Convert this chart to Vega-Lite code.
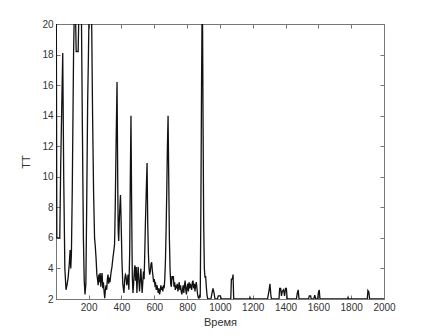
{
  "$schema": "https://vega.github.io/schema/vega-lite/v6.json",
  "autosize": "none",
  "width": 328,
  "height": 275,
  "padding": {"left": 56, "top": 24, "right": 42, "bottom": 37},
  "background": "white",
  "config": {
    "view": {"stroke": "#777", "strokeWidth": 1},
    "axis": {"grid": false, "domainColor": "#777", "tickColor": "#777", "labelColor": "#333", "titleColor": "#333", "labelFont": "Liberation Sans", "titleFont": "Liberation Sans", "labelFontSize": 10, "titleFontSize": 11, "titleFontWeight": "normal", "tickSize": -4, "labelPadding": 7, "labelOverlap": false, "labelFlush": false, "labelBound": false}
  },
  "data": {"values": [
    {"t":1,"v":20},{"t":3,"v":20},{"t":6,"v":6},{"t":24,"v":6},{"t":30,"v":11},{"t":42,"v":18.1},{"t":48,"v":10},{"t":55,"v":4},{"t":62,"v":2.6},{"t":68,"v":2.9},{"t":75,"v":3.4},{"t":82,"v":4.3},{"t":87,"v":5.2},{"t":91,"v":4},{"t":95,"v":5},{"t":100,"v":9},{"t":108,"v":18},{"t":112,"v":20.5},{"t":120,"v":20.5},{"t":124,"v":18.2},{"t":136,"v":18.2},{"t":140,"v":20.5},{"t":156,"v":20.5},{"t":162,"v":13},{"t":168,"v":6},{"t":173,"v":3.2},{"t":178,"v":2.3},{"t":183,"v":3},{"t":188,"v":8},{"t":194,"v":15},{"t":198,"v":17.5},{"t":202,"v":20.5},{"t":218,"v":20.5},{"t":224,"v":14},{"t":230,"v":9},{"t":236,"v":6},{"t":240,"v":5.5},{"t":245,"v":4.7},{"t":250,"v":3.6},{"t":254,"v":3.3},{"t":258,"v":2.9},{"t":262,"v":3.6},{"t":266,"v":3.1},{"t":270,"v":3.7},{"t":274,"v":2.8},{"t":278,"v":3.4},{"t":282,"v":3.7},{"t":286,"v":2.7},{"t":290,"v":3.1},{"t":294,"v":2.5},{"t":298,"v":2.05},{"t":302,"v":2.6},{"t":306,"v":2.9},{"t":310,"v":2.6},{"t":314,"v":3.3},{"t":318,"v":3.6},{"t":322,"v":3},{"t":326,"v":3.4},{"t":330,"v":3.1},{"t":336,"v":3.7},{"t":342,"v":4.1},{"t":348,"v":4.7},{"t":354,"v":5.2},{"t":358,"v":5.6},{"t":362,"v":8},{"t":367,"v":12},{"t":373,"v":16.2},{"t":377,"v":10},{"t":380,"v":6.5},{"t":383,"v":5.8},{"t":388,"v":7.5},{"t":394,"v":8.8},{"t":398,"v":7},{"t":403,"v":4.5},{"t":408,"v":3},{"t":415,"v":2.4},{"t":420,"v":3.3},{"t":424,"v":3.6},{"t":428,"v":3.5},{"t":432,"v":2.9},{"t":436,"v":3.1},{"t":440,"v":3.6},{"t":445,"v":2.6},{"t":450,"v":5},{"t":454,"v":10},{"t":458,"v":14},{"t":462,"v":8},{"t":466,"v":3.5},{"t":470,"v":2.4},{"t":474,"v":3},{"t":478,"v":3.8},{"t":482,"v":4.2},{"t":486,"v":3.2},{"t":490,"v":4.1},{"t":494,"v":2.4},{"t":498,"v":3.5},{"t":502,"v":4.1},{"t":506,"v":3.2},{"t":510,"v":2.5},{"t":514,"v":3.2},{"t":518,"v":4},{"t":522,"v":3.2},{"t":526,"v":2.4},{"t":530,"v":3.1},{"t":534,"v":3.8},{"t":538,"v":3.3},{"t":542,"v":5},{"t":546,"v":7},{"t":551,"v":9},{"t":556,"v":10.9},{"t":560,"v":7},{"t":564,"v":5},{"t":568,"v":4},{"t":572,"v":3.6},{"t":576,"v":3.8},{"t":580,"v":4.3},{"t":584,"v":4.4},{"t":588,"v":3.9},{"t":592,"v":3.5},{"t":596,"v":3.1},{"t":600,"v":3.3},{"t":604,"v":2.9},{"t":608,"v":3},{"t":612,"v":2.6},{"t":616,"v":2.9},{"t":620,"v":2.7},{"t":624,"v":2.4},{"t":628,"v":2.7},{"t":632,"v":2.3},{"t":636,"v":2.5},{"t":640,"v":2.9},{"t":644,"v":2.6},{"t":648,"v":2.8},{"t":652,"v":2.5},{"t":656,"v":2.9},{"t":660,"v":2.7},{"t":664,"v":3.3},{"t":668,"v":4.5},{"t":672,"v":6.5},{"t":676,"v":9},{"t":680,"v":12},{"t":684,"v":14},{"t":688,"v":10},{"t":692,"v":6},{"t":696,"v":4},{"t":700,"v":3},{"t":704,"v":2.8},{"t":708,"v":3.5},{"t":712,"v":3.3},{"t":716,"v":3.5},{"t":720,"v":2.8},{"t":724,"v":3.1},{"t":728,"v":2.6},{"t":732,"v":2.9},{"t":736,"v":2.7},{"t":740,"v":3},{"t":744,"v":2.5},{"t":748,"v":2.8},{"t":752,"v":3.1},{"t":756,"v":2.6},{"t":760,"v":2.9},{"t":764,"v":2.5},{"t":768,"v":2.3},{"t":772,"v":2.6},{"t":776,"v":2.9},{"t":780,"v":2.4},{"t":784,"v":2.9},{"t":788,"v":3.2},{"t":792,"v":2.6},{"t":796,"v":2.3},{"t":800,"v":2.8},{"t":804,"v":3},{"t":808,"v":2.5},{"t":812,"v":3.1},{"t":816,"v":2.7},{"t":820,"v":3},{"t":824,"v":2.8},{"t":828,"v":2.6},{"t":832,"v":3.1},{"t":836,"v":3.2},{"t":840,"v":2.7},{"t":844,"v":3},{"t":848,"v":2.5},{"t":852,"v":2.9},{"t":856,"v":3.1},{"t":860,"v":2.7},{"t":864,"v":2.3},{"t":868,"v":2.1},{"t":872,"v":2.05},{"t":876,"v":2.2},{"t":880,"v":2.1},{"t":884,"v":8},{"t":888,"v":16},{"t":891,"v":20.5},{"t":894,"v":20.5},{"t":897,"v":14},{"t":901,"v":7},{"t":905,"v":4},{"t":909,"v":3.4},{"t":913,"v":3.5},{"t":917,"v":2.8},{"t":922,"v":2.2},{"t":926,"v":2},{"t":945,"v":2},{"t":952,"v":2.4},{"t":958,"v":2.7},{"t":964,"v":2.4},{"t":970,"v":2},{"t":985,"v":2},{"t":990,"v":2.2},{"t":1003,"v":2.2},{"t":1008,"v":2},{"t":1066,"v":2},{"t":1070,"v":3.3},{"t":1076,"v":3.3},{"t":1080,"v":3.6},{"t":1084,"v":2},{"t":1180,"v":2},{"t":1183,"v":2.1},{"t":1186,"v":2},{"t":1290,"v":2},{"t":1300,"v":2.6},{"t":1305,"v":3},{"t":1310,"v":2.3},{"t":1314,"v":2},{"t":1360,"v":2},{"t":1364,"v":2.7},{"t":1370,"v":2.7},{"t":1375,"v":2.2},{"t":1380,"v":2.5},{"t":1388,"v":2.6},{"t":1394,"v":2.2},{"t":1400,"v":2.7},{"t":1405,"v":2.7},{"t":1410,"v":2},{"t":1466,"v":2},{"t":1472,"v":2.4},{"t":1477,"v":2.6},{"t":1482,"v":2},{"t":1540,"v":2},{"t":1545,"v":2.2},{"t":1553,"v":2.2},{"t":1556,"v":2},{"t":1572,"v":2},{"t":1578,"v":2.25},{"t":1584,"v":2},{"t":1596,"v":2},{"t":1600,"v":2.4},{"t":1605,"v":2.6},{"t":1610,"v":2},{"t":1778,"v":2},{"t":1781,"v":2.1},{"t":1784,"v":2},{"t":1898,"v":2},{"t":1902,"v":2.55},{"t":1908,"v":2.45},{"t":1912,"v":2},{"t":2000,"v":2}
  ]},
  "layer": [
    {
      "mark": {"type": "line", "color": "#111", "strokeWidth": 1.3, "clip": true},
      "encoding": {
        "x": {"field": "t", "type": "quantitative", "scale": {"domain": [1, 2000], "nice": false, "zero": false},
              "axis": {"values": [200,400,600,800,1000,1200,1400,1600,1800,2000], "title": "Время", "titlePadding": 4, "format": "d"}},
        "y": {"field": "v", "type": "quantitative", "scale": {"domain": [2, 20], "nice": false, "zero": false},
              "axis": {"values": [2,4,6,8,10,12,14,16,18,20], "title": "TT", "titlePadding": 10, "format": "d"}}
      }
    },
    {
      "mark": {"type": "line", "opacity": 0},
      "encoding": {
        "x": {"field": "t", "type": "quantitative", "axis": {"orient": "top", "values": [200,400,600,800,1000,1200,1400,1600,1800,2000], "labels": false, "title": null}},
        "y": {"field": "v", "type": "quantitative", "axis": {"orient": "right", "values": [2,4,6,8,10,12,14,16,18,20], "labels": false, "title": null}}
      }
    }
  ],
  "resolve": {"axis": {"x": "independent", "y": "independent"}}
}
